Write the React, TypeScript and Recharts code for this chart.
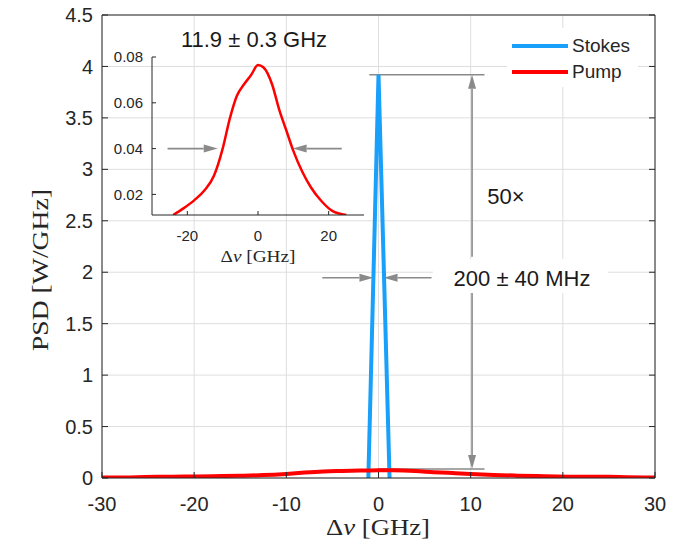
import React from 'react';
import { LineChart, Line, XAxis, YAxis, CartesianGrid, ReferenceLine, Legend } from 'recharts';

// axis ticks
const detuningTicks = [-30, -20, -10, 0, 10, 20, 30];
const psdTicks = [0, 0.5, 1, 1.5, 2, 2.5, 3, 3.5, 4, 4.5];
const insetDetuningTicks = [-20, 0, 20];
const insetPsdTicks = [0.02, 0.04, 0.06, 0.08];

// legend order
const seriesNames = ['Stokes', 'Pump'];

// Stokes line (narrow)
const stokesNu = [-1.1, 0, 1.2];
const stokesPsd = [0, 3.92, 0];

// Pump line (broad)
const pumpNu = [-30, -27, -24, -21, -18, -15, -12.5, -10, -8, -6, -4, -2, 0, 1.5, 4, 6, 8, 10, 12.5, 15, 18, 21, 25, 27, 30];
const pumpPsd = [0.004, 0.006, 0.011, 0.014, 0.0175, 0.022, 0.028, 0.04, 0.053, 0.063, 0.068, 0.072, 0.0765, 0.0755, 0.068, 0.057, 0.048, 0.039, 0.03, 0.023, 0.017, 0.0128, 0.011, 0.007, 0.004];

const BLUE = '#19A0FA';
const RED = '#FF0000';
const AXIS = '#262626';
const GRID = '#dedede';
const ARROW = '#8a8a8a';
const SANS = '"Liberation Sans", Arial, Helvetica, sans-serif';
const SERIF = '"Liberation Serif", "Times New Roman", serif';

const stokesData = stokesNu.map((nu, i) => ({ nu, psd: stokesPsd[i] }));
const pumpData = pumpNu.map((nu, i) => ({ nu, psd: pumpPsd[i] }));
const insetData = pumpData.filter((d) => d.nu >= -24 && d.nu <= 25);

// line with an optional filled arrow head at (x2, y2)
const arrow = (head: boolean) => (props: any) => {
  const { x1, y1, x2, y2 } = props;
  const dx = x2 - x1;
  const dy = y2 - y1;
  const len = Math.sqrt(dx * dx + dy * dy) || 1;
  const ux = dx / len;
  const uy = dy / len;
  const L = 14;
  const W = 4;
  const bx = x2 - ux * L;
  const by = y2 - uy * L;
  return (
    <g>
      <line x1={x1} y1={y1} x2={head ? bx : x2} y2={head ? by : y2} stroke={ARROW} strokeWidth={1.6} />
      {head && (
        <polygon
          points={`${x2},${y2} ${bx - uy * W},${by + ux * W} ${bx + uy * W},${by - ux * W}`}
          fill={ARROW}
        />
      )}
    </g>
  );
};

const renderLegend = (props: any) => {
  const items = [...(props.payload || [])].sort(
    (a: any, b: any) => seriesNames.indexOf(a.value) - seriesNames.indexOf(b.value)
  );
  return (
    <div style={{ background: '#fff', width: 131, height: 59, position: 'relative' }}>
      {items.map((it: any, i: number) => (
        <div key={it.value} style={{ position: 'absolute', left: 5, top: 5 + i * 26, height: 26, display: 'flex', alignItems: 'center' }}>
          <div style={{ width: 56, height: 4, background: it.color }} />
          <span style={{ marginLeft: 4, fontFamily: SANS, fontSize: 19, color: AXIS }}>{it.value}</span>
        </div>
      ))}
    </div>
  );
};

const App: React.FC = () => {
  const tickStyle = { fill: AXIS, fontSize: 20, fontFamily: SANS };
  const insetTick = { fill: AXIS, fontSize: 15, fontFamily: SANS };
  return (
    <div style={{ position: 'absolute', left: 0, top: 0, width: 687, height: 544, background: '#fff' }}>
      <LineChart width={687} height={544} margin={{ top: 14, right: 31, bottom: 26, left: 0 }}>
        <CartesianGrid stroke={GRID} strokeWidth={1} />
        <XAxis
          dataKey="nu"
          type="number"
          domain={[-30, 30]}
          ticks={detuningTicks}
          allowDataOverflow
          height={40}
          tickSize={-6}
          tickMargin={25}
          tick={tickStyle}
          axisLine={{ stroke: AXIS }}
          tickLine={{ stroke: AXIS }}
        />
        <XAxis
          xAxisId="top"
          orientation="top"
          type="number"
          domain={[-30, 30]}
          ticks={detuningTicks}
          allowDataOverflow
          height={1}
          tickSize={-6}
          tickFormatter={() => ''}
          axisLine={{ stroke: AXIS }}
          tickLine={{ stroke: AXIS }}
        />
        <YAxis
          type="number"
          domain={[0, 4.5]}
          ticks={psdTicks}
          allowDataOverflow
          width={102}
          tickSize={-6}
          tickMargin={15}
          tick={tickStyle}
          axisLine={{ stroke: AXIS }}
          tickLine={{ stroke: AXIS }}
        />
        <YAxis
          yAxisId="right"
          orientation="right"
          type="number"
          domain={[0, 4.5]}
          ticks={psdTicks}
          allowDataOverflow
          width={1}
          tickSize={-6}
          tickFormatter={() => ''}
          axisLine={{ stroke: AXIS }}
          tickLine={{ stroke: AXIS }}
        />
        <ReferenceLine segment={[{ x: -1, y: 3.92 }, { x: 11.5, y: 3.92 }]} shape={arrow(false)} />
        <ReferenceLine segment={[{ x: 0, y: 0.087 }, { x: 11.5, y: 0.087 }]} shape={arrow(false)} />
        <ReferenceLine segment={[{ x: 10.15, y: 2.15 }, { x: 10.15, y: 3.92 }]} shape={arrow(true)} />
        <ReferenceLine segment={[{ x: 10.15, y: 1.83 }, { x: 10.15, y: 0.087 }]} shape={arrow(true)} />
        <ReferenceLine segment={[{ x: -6.1, y: 1.946 }, { x: -0.55, y: 1.946 }]} shape={arrow(true)} />
        <ReferenceLine segment={[{ x: 5.75, y: 1.946 }, { x: 0.55, y: 1.946 }]} shape={arrow(true)} />
        <Line data={stokesData} dataKey="psd" name="Stokes" type="linear" stroke={BLUE} strokeWidth={4} dot={false} isAnimationActive={false} />
        <Line data={pumpData} dataKey="psd" name="Pump" type="monotone" stroke={RED} strokeWidth={4} dot={false} isAnimationActive={false} />
        <Legend
          layout="horizontal"
          verticalAlign="middle"
          align="center"
          content={renderLegend}
          wrapperStyle={{ left: 507, top: 28, width: 131, height: 59 }}
        />
      </LineChart>

      {/* inset */}
      <div style={{ position: 'absolute', left: 100, top: 40 }}>
        <LineChart width={280} height={240} margin={{ top: 17, right: 16, bottom: 20, left: 0 }}>
          <XAxis
            dataKey="nu"
            type="number"
            domain={[-30, 30]}
            ticks={insetDetuningTicks}
            allowDataOverflow
            height={45}
            tickSize={-4}
            tickMargin={19}
            tick={insetTick}
            axisLine={{ stroke: AXIS }}
            tickLine={{ stroke: AXIS }}
          />
          <YAxis
            type="number"
            domain={[0.011, 0.08]}
            ticks={insetPsdTicks}
            allowDataOverflow
            width={52}
            tickSize={-4}
            tickMargin={13}
            tick={insetTick}
            axisLine={{ stroke: AXIS }}
            tickLine={{ stroke: AXIS }}
          />
          <ReferenceLine segment={[{ x: -25.6, y: 0.04 }, { x: -11.4, y: 0.04 }]} shape={arrow(true)} />
          <ReferenceLine segment={[{ x: 23.7, y: 0.04 }, { x: 9.8, y: 0.04 }]} shape={arrow(true)} />
          <Line data={insetData} dataKey="psd" type="monotone" stroke={RED} strokeWidth={2.5} dot={false} isAnimationActive={false} />
        </LineChart>
      </div>

      {/* titles and annotations */}
      <svg width={687} height={544} style={{ position: 'absolute', left: 0, top: 0, pointerEvents: 'none' }}>
        <text x={378} y={527} textAnchor="middle" dominantBaseline="central" fontFamily={SERIF} fontSize={24} textLength={104} lengthAdjust="spacingAndGlyphs" fill={AXIS}>
          Δ<tspan fontStyle="italic">ν</tspan> [GHz]
        </text>
        <text
          x={40}
          y={270}
          transform="rotate(-90 40 270)"
          textAnchor="middle"
          dominantBaseline="central"
          fontFamily={SERIF}
          fontSize={24}
          textLength={162}
          lengthAdjust="spacingAndGlyphs"
          fill={AXIS}
        >
          PSD [W/GHz]
        </text>
        <text x={258} y={256} textAnchor="middle" dominantBaseline="central" fontFamily={SERIF} fontSize={17} textLength={75} lengthAdjust="spacingAndGlyphs" fill={AXIS}>
          Δ<tspan fontStyle="italic">ν</tspan> [GHz]
        </text>
        <text x={254} y={39} textAnchor="middle" dominantBaseline="central" fontFamily={SANS} fontSize={22} fill="#1a1a1a">
          11.9 ± 0.3 GHz
        </text>
        <text x={506} y={196} textAnchor="middle" dominantBaseline="central" fontFamily={SANS} fontSize={22} fill="#1a1a1a">
          50×
        </text>
        <rect x={433} y={259} width={175} height={34} fill="#fff" />
        <text x={522} y={278} textAnchor="middle" dominantBaseline="central" fontFamily={SANS} fontSize={22} fill="#1a1a1a">
          200 ± 40 MHz
        </text>
      </svg>
    </div>
  );
};

export default App;
